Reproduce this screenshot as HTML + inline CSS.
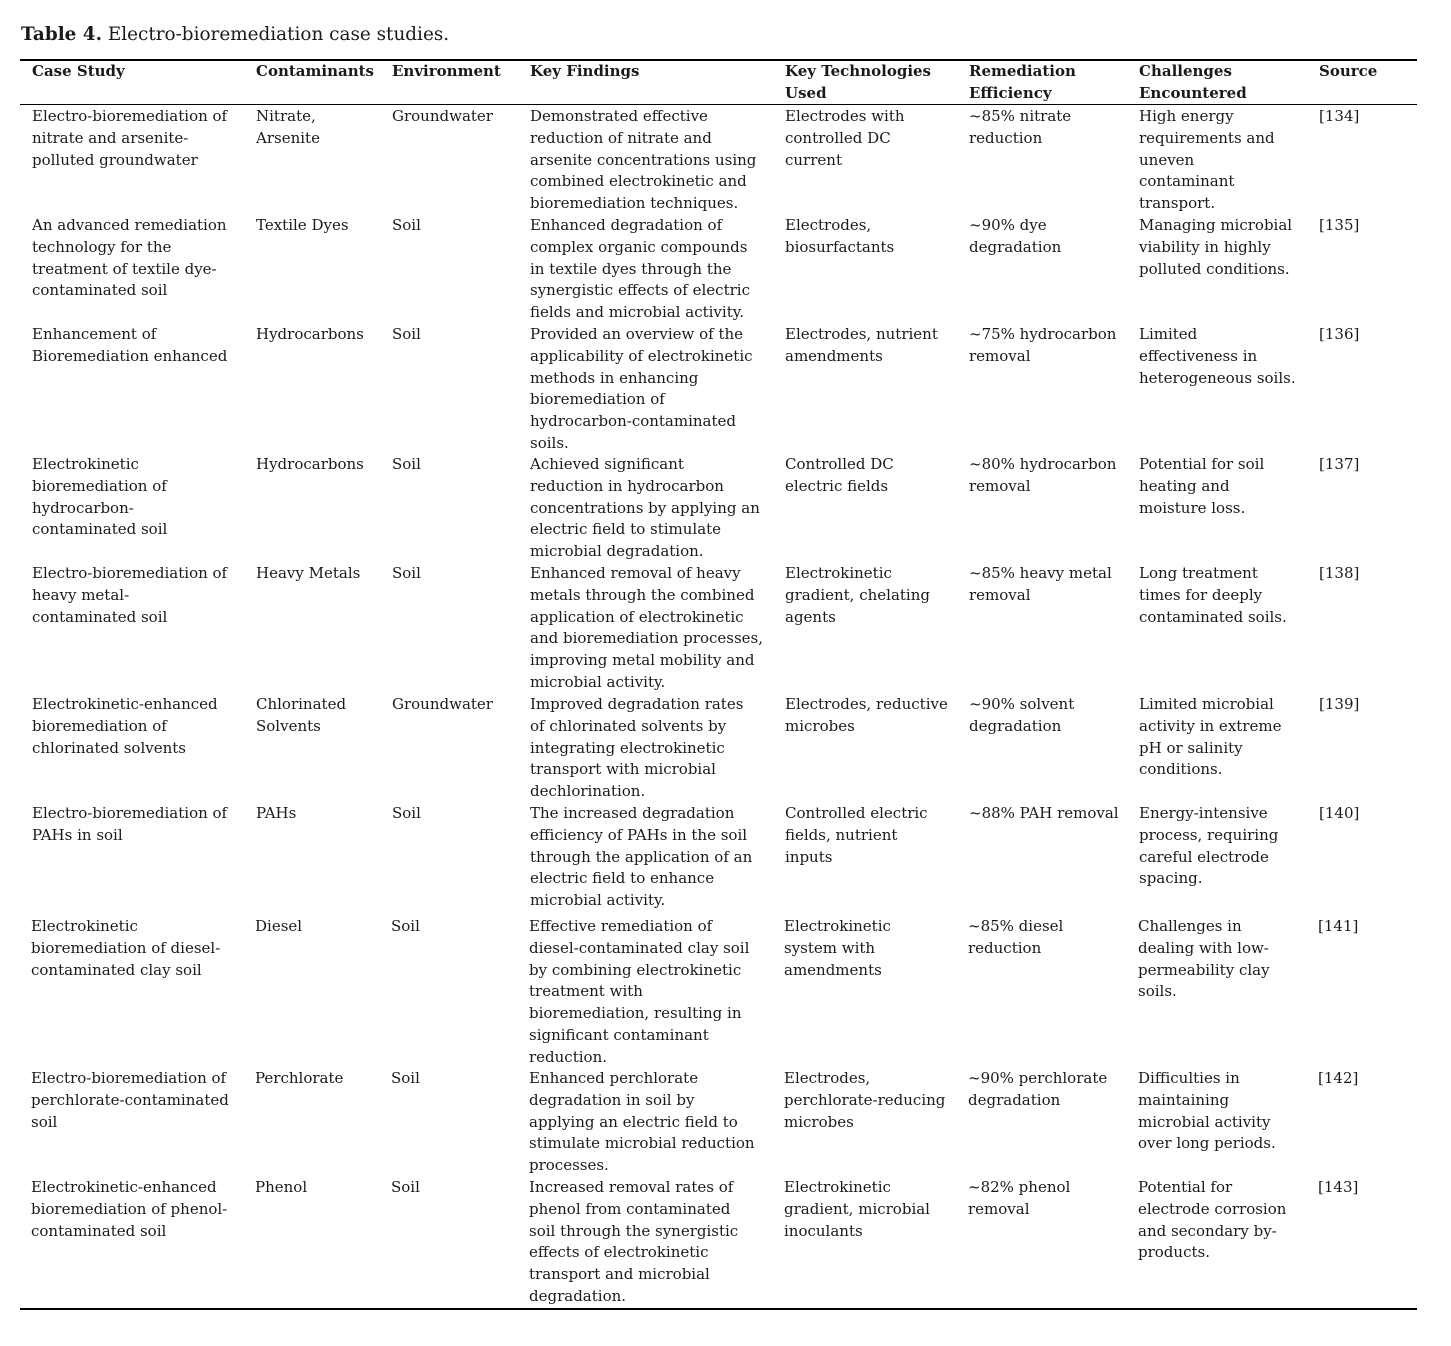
<!DOCTYPE html>
<html><head><meta charset="utf-8"><style>
body{margin:0;width:1451px;height:1346px;background:#fff;position:relative;font-family:"DejaVu Serif","Liberation Serif",serif;color:#1a1a1a;}
.c{position:absolute;font-size:15px;line-height:21.75px;white-space:nowrap;}
.h{font-weight:bold;margin-top:0px;}
.r{position:absolute;left:20px;width:1397px;background:#000;}
</style></head><body>
<div style="position:absolute;left:21px;top:24px;font-size:18.4px;white-space:nowrap"><b>Table 4.</b> Electro-bioremediation case studies.</div>
<div class="r" style="top:59px;height:2px"></div>
<div class="r" style="top:104px;height:1px"></div>
<div class="r" style="top:1308px;height:2px"></div>

<div class="c h" style="left:32px;top:61px">Case Study</div>
<div class="c h" style="left:256px;top:61px">Contaminants</div>
<div class="c h" style="left:392px;top:61px">Environment</div>
<div class="c h" style="left:530px;top:61px">Key Findings</div>
<div class="c h" style="left:785px;top:61px">Key Technologies<br>Used</div>
<div class="c h" style="left:969px;top:61px">Remediation<br>Efficiency</div>
<div class="c h" style="left:1139px;top:61px">Challenges<br>Encountered</div>
<div class="c h" style="left:1319px;top:61px">Source</div>

<div class="c" style="left:32px;top:106px">Electro-bioremediation of<br>nitrate and arsenite-<br>polluted groundwater</div>
<div class="c" style="left:256px;top:106px">Nitrate,<br>Arsenite</div>
<div class="c" style="left:392px;top:106px">Groundwater</div>
<div class="c" style="left:530px;top:106px">Demonstrated effective<br>reduction of nitrate and<br>arsenite concentrations using<br>combined electrokinetic and<br>bioremediation techniques.</div>
<div class="c" style="left:785px;top:106px">Electrodes with<br>controlled DC<br>current</div>
<div class="c" style="left:969px;top:106px">~85% nitrate<br>reduction</div>
<div class="c" style="left:1139px;top:106px">High energy<br>requirements and<br>uneven<br>contaminant<br>transport.</div>
<div class="c" style="left:1319px;top:106px">[134]</div>

<div class="c" style="left:32px;top:215px">An advanced remediation<br>technology for the<br>treatment of textile dye-<br>contaminated soil</div>
<div class="c" style="left:256px;top:215px">Textile Dyes</div>
<div class="c" style="left:392px;top:215px">Soil</div>
<div class="c" style="left:530px;top:215px">Enhanced degradation of<br>complex organic compounds<br>in textile dyes through the<br>synergistic effects of electric<br>fields and microbial activity.</div>
<div class="c" style="left:785px;top:215px">Electrodes,<br>biosurfactants</div>
<div class="c" style="left:969px;top:215px">~90% dye<br>degradation</div>
<div class="c" style="left:1139px;top:215px">Managing microbial<br>viability in highly<br>polluted conditions.</div>
<div class="c" style="left:1319px;top:215px">[135]</div>

<div class="c" style="left:32px;top:324px">Enhancement of<br>Bioremediation enhanced</div>
<div class="c" style="left:256px;top:324px">Hydrocarbons</div>
<div class="c" style="left:392px;top:324px">Soil</div>
<div class="c" style="left:530px;top:324px">Provided an overview of the<br>applicability of electrokinetic<br>methods in enhancing<br>bioremediation of<br>hydrocarbon-contaminated<br>soils.</div>
<div class="c" style="left:785px;top:324px">Electrodes, nutrient<br>amendments</div>
<div class="c" style="left:969px;top:324px">~75% hydrocarbon<br>removal</div>
<div class="c" style="left:1139px;top:324px">Limited<br>effectiveness in<br>heterogeneous soils.</div>
<div class="c" style="left:1319px;top:324px">[136]</div>

<div class="c" style="left:32px;top:454px">Electrokinetic<br>bioremediation of<br>hydrocarbon-<br>contaminated soil</div>
<div class="c" style="left:256px;top:454px">Hydrocarbons</div>
<div class="c" style="left:392px;top:454px">Soil</div>
<div class="c" style="left:530px;top:454px">Achieved significant<br>reduction in hydrocarbon<br>concentrations by applying an<br>electric field to stimulate<br>microbial degradation.</div>
<div class="c" style="left:785px;top:454px">Controlled DC<br>electric fields</div>
<div class="c" style="left:969px;top:454px">~80% hydrocarbon<br>removal</div>
<div class="c" style="left:1139px;top:454px">Potential for soil<br>heating and<br>moisture loss.</div>
<div class="c" style="left:1319px;top:454px">[137]</div>

<div class="c" style="left:32px;top:563px">Electro-bioremediation of<br>heavy metal-<br>contaminated soil</div>
<div class="c" style="left:256px;top:563px">Heavy Metals</div>
<div class="c" style="left:392px;top:563px">Soil</div>
<div class="c" style="left:530px;top:563px">Enhanced removal of heavy<br>metals through the combined<br>application of electrokinetic<br>and bioremediation processes,<br>improving metal mobility and<br>microbial activity.</div>
<div class="c" style="left:785px;top:563px">Electrokinetic<br>gradient, chelating<br>agents</div>
<div class="c" style="left:969px;top:563px">~85% heavy metal<br>removal</div>
<div class="c" style="left:1139px;top:563px">Long treatment<br>times for deeply<br>contaminated soils.</div>
<div class="c" style="left:1319px;top:563px">[138]</div>

<div class="c" style="left:32px;top:694px">Electrokinetic-enhanced<br>bioremediation of<br>chlorinated solvents</div>
<div class="c" style="left:256px;top:694px">Chlorinated<br>Solvents</div>
<div class="c" style="left:392px;top:694px">Groundwater</div>
<div class="c" style="left:530px;top:694px">Improved degradation rates<br>of chlorinated solvents by<br>integrating electrokinetic<br>transport with microbial<br>dechlorination.</div>
<div class="c" style="left:785px;top:694px">Electrodes, reductive<br>microbes</div>
<div class="c" style="left:969px;top:694px">~90% solvent<br>degradation</div>
<div class="c" style="left:1139px;top:694px">Limited microbial<br>activity in extreme<br>pH or salinity<br>conditions.</div>
<div class="c" style="left:1319px;top:694px">[139]</div>

<div class="c" style="left:32px;top:803px">Electro-bioremediation of<br>PAHs in soil</div>
<div class="c" style="left:256px;top:803px">PAHs</div>
<div class="c" style="left:392px;top:803px">Soil</div>
<div class="c" style="left:530px;top:803px">The increased degradation<br>efficiency of PAHs in the soil<br>through the application of an<br>electric field to enhance<br>microbial activity.</div>
<div class="c" style="left:785px;top:803px">Controlled electric<br>fields, nutrient<br>inputs</div>
<div class="c" style="left:969px;top:803px">~88% PAH removal</div>
<div class="c" style="left:1139px;top:803px">Energy-intensive<br>process, requiring<br>careful electrode<br>spacing.</div>
<div class="c" style="left:1319px;top:803px">[140]</div>

<div class="c" style="left:31px;top:916px">Electrokinetic<br>bioremediation of diesel-<br>contaminated clay soil</div>
<div class="c" style="left:255px;top:916px">Diesel</div>
<div class="c" style="left:391px;top:916px">Soil</div>
<div class="c" style="left:529px;top:916px">Effective remediation of<br>diesel-contaminated clay soil<br>by combining electrokinetic<br>treatment with<br>bioremediation, resulting in<br>significant contaminant<br>reduction.</div>
<div class="c" style="left:784px;top:916px">Electrokinetic<br>system with<br>amendments</div>
<div class="c" style="left:968px;top:916px">~85% diesel<br>reduction</div>
<div class="c" style="left:1138px;top:916px">Challenges in<br>dealing with low-<br>permeability clay<br>soils.</div>
<div class="c" style="left:1318px;top:916px">[141]</div>

<div class="c" style="left:31px;top:1068px">Electro-bioremediation of<br>perchlorate-contaminated<br>soil</div>
<div class="c" style="left:255px;top:1068px">Perchlorate</div>
<div class="c" style="left:391px;top:1068px">Soil</div>
<div class="c" style="left:529px;top:1068px">Enhanced perchlorate<br>degradation in soil by<br>applying an electric field to<br>stimulate microbial reduction<br>processes.</div>
<div class="c" style="left:784px;top:1068px">Electrodes,<br>perchlorate-reducing<br>microbes</div>
<div class="c" style="left:968px;top:1068px">~90% perchlorate<br>degradation</div>
<div class="c" style="left:1138px;top:1068px">Difficulties in<br>maintaining<br>microbial activity<br>over long periods.</div>
<div class="c" style="left:1318px;top:1068px">[142]</div>

<div class="c" style="left:31px;top:1177px">Electrokinetic-enhanced<br>bioremediation of phenol-<br>contaminated soil</div>
<div class="c" style="left:255px;top:1177px">Phenol</div>
<div class="c" style="left:391px;top:1177px">Soil</div>
<div class="c" style="left:529px;top:1177px">Increased removal rates of<br>phenol from contaminated<br>soil through the synergistic<br>effects of electrokinetic<br>transport and microbial<br>degradation.</div>
<div class="c" style="left:784px;top:1177px">Electrokinetic<br>gradient, microbial<br>inoculants</div>
<div class="c" style="left:968px;top:1177px">~82% phenol<br>removal</div>
<div class="c" style="left:1138px;top:1177px">Potential for<br>electrode corrosion<br>and secondary by-<br>products.</div>
<div class="c" style="left:1318px;top:1177px">[143]</div>
</body></html>
